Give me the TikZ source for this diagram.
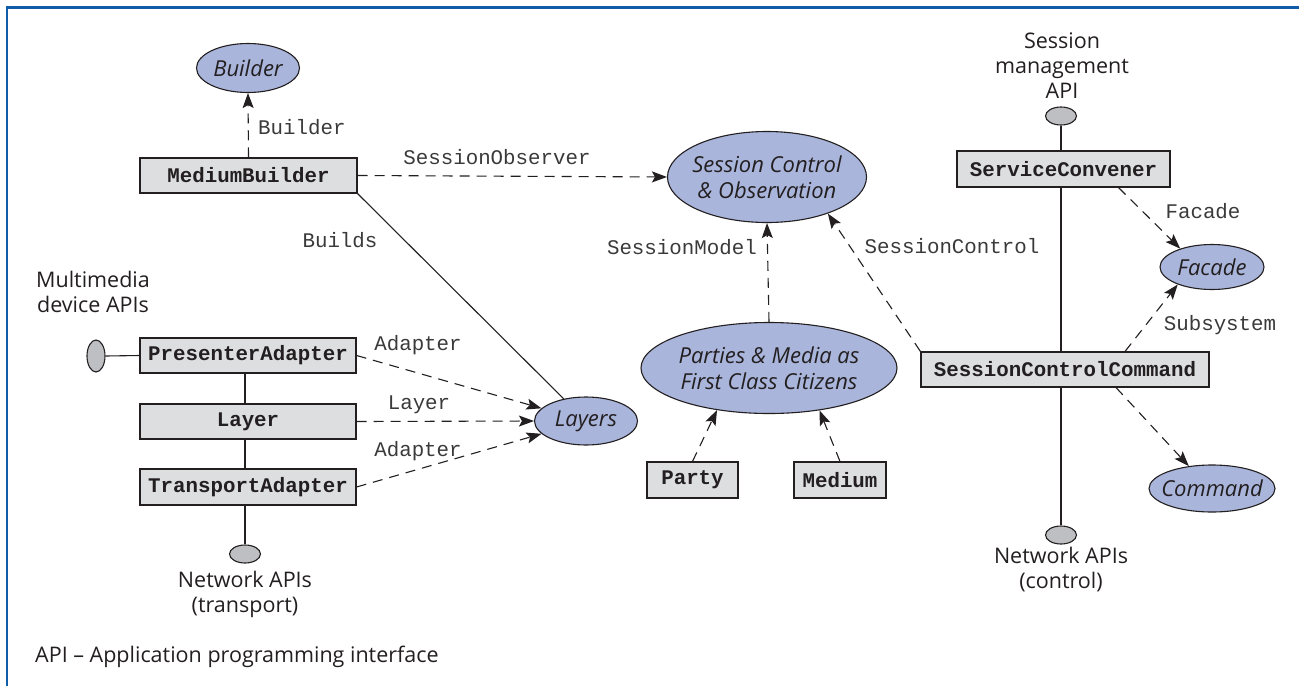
\documentclass[tikz,border=0pt]{standalone}
\usepackage{fontspec}
\setmainfont{Open Sans}
\setmonofont{Liberation Mono}
\usetikzlibrary{shapes.geometric,arrows.meta}

\definecolor{frameblue}{HTML}{0F5CA8}
\definecolor{patternfill}{HTML}{A9B5DB}
\definecolor{classfill}{HTML}{DDDEE0}
\definecolor{apifill}{HTML}{BEBFC2}
\definecolor{ink}{HTML}{231F20}
\definecolor{roleink}{HTML}{3A3A3A}

\tikzset{
  pattern/.style={ellipse, draw=ink, line width=1.1pt, fill=patternfill, inner sep=0pt},
  ptext/.style={font=\fontsize{22}{26}\selectfont\itshape, text=ink, align=center, inner sep=0pt},
  classbox/.style={rectangle, draw=ink, line width=1.1pt, fill=classfill, inner sep=0pt,
    minimum height=35pt, font=\fontsize{20.8}{24}\selectfont\ttfamily\bfseries, text=ink},
  apiport/.style={ellipse, draw=ink, line width=1.1pt, fill=apifill, inner sep=0pt},
  note/.style={font=\fontsize{21.5}{25}\selectfont, text=ink, align=center, inner sep=0pt},
  role/.style={font=\fontsize{20.8}{24}\selectfont\ttfamily, text=roleink, inner sep=0pt},
  uses/.style={draw=ink, line width=1.1pt, dash pattern=on 10pt off 7pt,
    -{Stealth[length=15pt,width=11pt,inset=3pt]}},
  wire/.style={draw=ink, line width=1.1pt},
}

\begin{document}
\begin{tikzpicture}[x=1pt,y=-1pt]
  \useasboundingbox (0,0) rectangle (1299,686);
  \fill[white] (0,0) rectangle (1299,686);
  % frame
  \draw[frameblue, line width=2.8pt] (7,686) -- (7,7.2) -- (1299,7.2);

  % pattern ellipses
  \node[pattern, minimum width=103pt, minimum height=49pt,
        label={[ptext]center:Builder}] (builder) at (248,68) {};
  \node[pattern, minimum width=199pt, minimum height=91pt,
        label={[ptext]center:{Session Control\\\& Observation}}] (sco) at (767,177) {};
  \node[pattern, minimum width=103pt, minimum height=48pt,
        label={[ptext]center:Layers}] (layers) at (586,421) {};
  \node[pattern, minimum width=256pt, minimum height=91pt,
        label={[ptext]center:{Parties \& Media as\\First Class Citizens}}] (parties) at (769,368) {};
  \node[pattern, minimum width=104pt, minimum height=45pt,
        label={[ptext]center:Facade}] (facade) at (1212,267) {};
  \node[pattern, minimum width=126pt, minimum height=47pt,
        label={[ptext]center:Command}] (command) at (1212,488.5) {};

  % classes
  \node[classbox, minimum width=217pt] (mb) at (248.5,175.5) {MediumBuilder};
  \node[classbox, minimum width=216pt] (pa) at (248,355.5) {PresenterAdapter};
  \node[classbox, minimum width=216pt] (layer) at (248,421.5) {Layer};
  \node[classbox, minimum width=216pt, minimum height=36pt] (ta) at (248,487) {TransportAdapter};
  \node[classbox, minimum width=91pt, minimum height=36pt] (party) at (692.5,480) {Party};
  \node[classbox, minimum width=92pt, minimum height=36pt] (medium) at (840,480) {Medium};
  \node[classbox, minimum width=213pt, minimum height=36pt] (sc) at (1063.5,169) {ServiceConvener};
  \node[classbox, minimum width=288pt] (scc) at (1065,369.5) {SessionControlCommand};

  % API ports
  \node[apiport, minimum width=18pt, minimum height=32pt] (mmapi) at (96,356) {};
  \node[apiport, minimum width=31pt, minimum height=18pt] (netT) at (245,554) {};
  \node[apiport, minimum width=31pt, minimum height=18pt] (smapi) at (1061,116) {};
  \node[apiport, minimum width=31pt, minimum height=18pt] (netC) at (1061,535) {};

  % notes
  \node[note] (mmtext) at (93,292) {Multimedia\\device APIs};
  \node[note] (nettext) at (245,594) {Network APIs\\(transport)};
  \node[note] (smtext) at (1062,66) {Session\\management\\API};
  \node[note] (nctext) at (1061,570) {Network APIs\\(control)};
  \node[note, anchor=west] (legend) at (35,657) {API – Application programming interface};

  % solid wiring
  \draw[wire] (mmapi.east) -- (pa.west);
  \draw[wire] (netT |- pa.south) -- (netT |- layer.north);
  \draw[wire] (netT |- layer.south) -- (netT |- ta.north);
  \draw[wire] (netT |- ta.south) -- (netT.north);
  \draw[wire] (smapi.south) -- (smapi |- sc.north);
  \draw[wire] (smapi |- sc.south) -- (smapi |- scc.north);
  \draw[wire] (netC |- scc.south) -- (netC.north);
  \draw[wire] (mb.south east) -- (layers);

  % pattern roles
  \draw[uses] (mb.north) -- (builder.south);
  \draw[uses] (mb.east) -- (sco.west);
  \draw[uses] (pa.east) -- (layers);
  \draw[uses] (layer.east) -- (layers.west);
  \draw[uses] (ta.east) -- (layers);
  \draw[uses] (parties.north) -- (sco.south);
  \draw[uses] (party.north) -- (parties.219);
  \draw[uses] (medium.north) -- (parties.320);
  \draw[uses] (scc.north west) -- (sco.329);
  \draw[uses] ([xshift=55pt]sc.south) -- (facade.150);
  \draw[uses] ([xshift=60pt]scc.north) -- (facade.207);
  \draw[uses] ([xshift=51pt]scc.south) -- (command.136);

  % role labels
  \node[role, anchor=west] (lbuilder) at (258,127) {Builder};
  \node[role] (lobs) at (497,157) {SessionObserver};
  \node[role] (lbuilds) at (340,240) {Builds};
  \node[role] (ladapt1) at (418,345) {Adapter};
  \node[role] (llayer) at (419,405) {Layer};
  \node[role] (ladapt2) at (418,451) {Adapter};
  \node[role, anchor=east] (lmodel) at (757,247) {SessionModel};
  \node[role] (lcontrol) at (952,246) {SessionControl};
  \node[role] (lfacade) at (1203,211) {Facade};
  \node[role] (lsub) at (1220,325) {Subsystem};
\end{tikzpicture}
\end{document}
